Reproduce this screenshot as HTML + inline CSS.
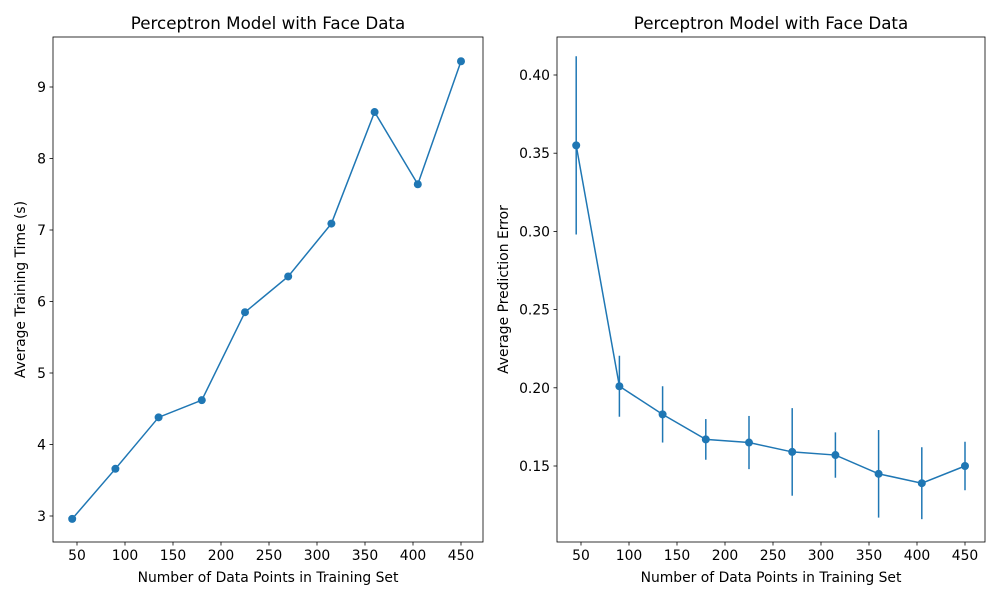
<!DOCTYPE html>
<html><head><meta charset="utf-8"><style>
body{margin:0;background:#fff;font-family:"Liberation Sans","DejaVu Sans",sans-serif}
svg text{font-family:"DejaVu Sans","Liberation Sans",sans-serif;fill:#000}
</style></head><body>
<svg id="c" width="1000" height="600"></svg>
<script>
const xVals=[45,90,135,180,225,270,315,360,405,450];
const timeVals=[2.96,3.66,4.38,4.62,5.85,6.35,7.09,8.65,7.64,9.36];
const errVals=[0.355,0.201,0.183,0.167,0.165,0.159,0.157,0.145,0.139,0.150];
const errBars=[0.057,0.0195,0.018,0.013,0.017,0.028,0.0145,0.028,0.023,0.0155];
const xTicks=[50,100,150,200,250,300,350,400,450];
const yTicksL=[3,4,5,6,7,8,9];
const yTicksR=[0.15,0.20,0.25,0.30,0.35,0.40];
const NS='http://www.w3.org/2000/svg';
const svg=document.getElementById('c');
function mk(t,a,p){const e=document.createElementNS(NS,t);for(const k in a)e.setAttribute(k,a[k]);(p||svg).appendChild(e);return e;}
function panel(o){
 const g=mk('g',{});
 
 
 const xs=v=>o.x0+(v-50)*o.xk;
 const ys=v=>o.yA+(v-o.vA)*o.yk;
 const t=mk('text',{x:(o.L+o.R)/2,y:29,'text-anchor':'middle','font-size':16.7},g);t.textContent='Perceptron Model with Face Data';
 
 xTicks.forEach(v=>{const x=xs(v);mk('line',{x1:x,x2:x,y1:542,y2:545.5,stroke:'#000','stroke-width':0.8},g);
  const l=mk('text',{x:x,y:560,'text-anchor':'middle','font-size':13.9},g);l.textContent=v;
  });
 o.yt.forEach(v=>{const y=ys(v);mk('line',{x1:o.L,x2:o.L-3.5,y1:y,y2:y,stroke:'#000','stroke-width':0.8},g);
  const l=mk('text',{x:o.L-7,y:y+5,'text-anchor':'end','font-size':13.9},g);l.textContent=o.fmt(v);
  });
 const xl=mk('text',{x:(o.L+o.R)/2,y:582,'text-anchor':'middle','font-size':13.9},g);xl.textContent='Number of Data Points in Training Set';
 
 const yl=mk('text',{x:0,y:0,'text-anchor':'middle','font-size':13.9,transform:`translate(${o.ylx},${(37+542)/2}) rotate(-90)`},g);yl.textContent=o.ylab;
 
 if(o.err){o.vals.forEach((v,i)=>{const x=xs(xVals[i]);const b=mk('line',{x1:x,x2:x,y1:ys(v-o.err[i]),y2:ys(v+o.err[i]),stroke:'#1f77b4','stroke-width':1.5},g);
  });}
 const pl=mk('polyline',{points:o.vals.map((v,i)=>xs(xVals[i])+','+ys(v)).join(' '),fill:'none',stroke:'#1f77b4','stroke-width':1.5},g);
 
 o.vals.forEach((v,i)=>{const c=mk('circle',{cx:xs(xVals[i]),cy:ys(v),r:4,fill:'#1f77b4'},g);
  });
 mk('rect',{x:o.L,y:37,width:o.R-o.L,height:505,fill:'none',stroke:'#000','stroke-width':0.8},g);
}
panel({name:'training-time-chart',L:53,R:483,x0:77,xk:0.96,yA:516,vA:3,yk:-71.5,yt:yTicksL,vals:timeVals,fmt:v=>v,ylab:'Average Training Time (s)',ylx:25});
panel({name:'prediction-error-chart',L:557,R:985,x0:581,xk:0.96,yA:466,vA:0.15,yk:-1564,yt:yTicksR,vals:errVals,err:errBars,fmt:v=>v.toFixed(2),ylab:'Average Prediction Error',ylx:508});
</script>
</body></html>
